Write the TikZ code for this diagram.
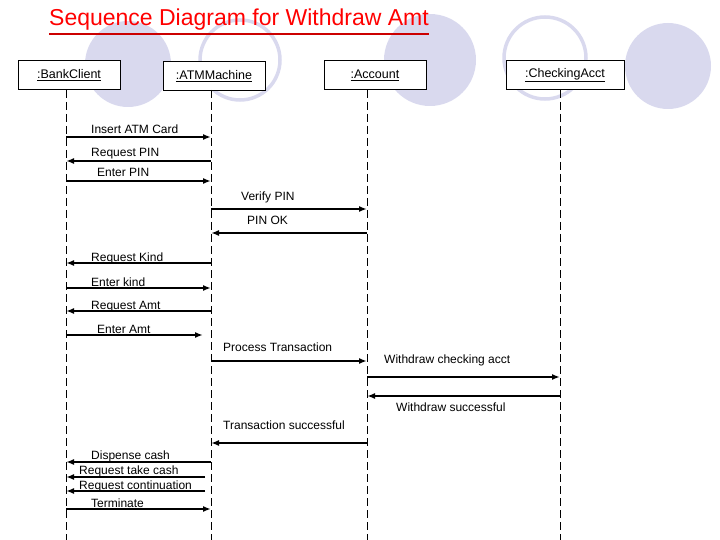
\documentclass[tikz,border=0pt]{standalone}
\usepackage{fontspec}
\setmainfont{Liberation Sans}
\usetikzlibrary{arrows.meta}
\definecolor{lav}{RGB}{217,217,238}
\begin{document}
\begin{tikzpicture}[x=1pt, y=-1pt,
    obj/.style={draw, minimum height=29pt, inner sep=0pt, font=\fontsize{12.5}{14}\selectfont},
    life/.style={dashed, dash pattern=on 8pt off 4pt, thin},
    msg/.style={line width=1.6pt, -{Latex[length=8pt,width=6pt]}},
    lbl/.style={anchor=base west, inner sep=0pt, font=\fontsize{12}{13}\selectfont}]
    \useasboundingbox (0,0) rectangle (720,540);
    % background circles
    \fill[lav] (128,64) circle (43);
    \draw[lav, line width=3.5pt] (240,60) circle (40);
    \fill[lav] (430,60) circle (46);
    \draw[lav, line width=3.5pt] (545,58) circle (41);
    \fill[lav] (668,66) circle (43);
    % title
    \node[anchor=base west, inner sep=0pt, red, font=\fontsize{23}{25}\selectfont] (title) at (49,26) {Sequence Diagram for Withdraw Amt};
    \draw[red!80!black, line width=2pt] (title.south west) ++(0,3) -- ([yshift=-3pt]title.south east);
    % objects
    \node[obj, fill=white, minimum width=102pt] (client) at (69,75) {\underline{:BankClient}};
    \node[obj, fill=white, minimum width=102pt] (atm) at (214,76) {\underline{:ATMMachine}};
    \node[obj, fill=white, minimum width=102pt] (acct) at (375,75) {\underline{:Account}};
    \node[obj, fill=white, minimum width=118pt] (chk) at (565,75) {\underline{:CheckingAcct}};
    % lifelines
    \foreach \o/\x in {client/66, atm/211, acct/367, chk/560} {
        \coordinate (\o-end) at (\x,540);
        \draw[life] (\x,90) -- (\o-end);
    }
    % messages
    \foreach \i/\y/\a/\b/\lx/\ly/\t in {
        1/137/66/211/91/134/Insert ATM Card,
        2/161/211/66/91/157/Request PIN,
        3/181/66/211/97/177/Enter PIN,
        4/209/211/367/241/201/Verify PIN,
        5/233/367/211/247/225/PIN OK,
        6/263/211/66/91/261/Request Kind,
        7/288/66/211/91/286/Enter kind,
        8/311/211/66/91/309/Request Amt,
        9/335/66/203/97/333/Enter Amt,
        10/361/211/367/223/351/Process Transaction,
        11/377/367/560/384/363/Withdraw checking acct,
        12/396/560/367/396/411/Withdraw successful,
        13/443/367/211/223/429/Transaction successful,
        14/462/211/66/91/459/Dispense cash,
        15/477/205/66/79/474/Request take cash,
        16/491/205/66/79/489/Request continuation,
        17/509/66/211/91/507/Terminate} {
        \coordinate (m\i-s) at (\a,\y);
        \coordinate (m\i-e) at (\b,\y);
        \draw[msg] (m\i-s) -- (m\i-e);
        \node[lbl] (t\i) at (\lx,\ly) {\t};
    }
\end{tikzpicture}
\end{document}
